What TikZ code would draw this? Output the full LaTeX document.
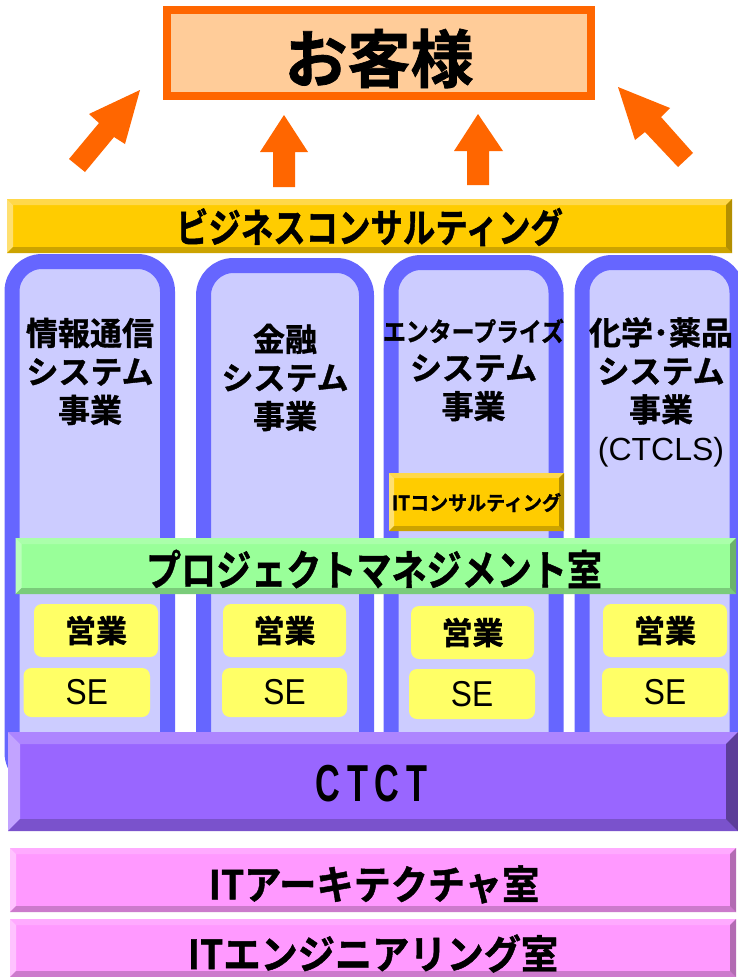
\documentclass[tikz,border=0pt]{standalone}
\usepackage{fontspec}
\usepackage{graphicx}
\setmainfont{Noto Sans CJK JP}[BoldFont={Noto Sans CJK JP Bold}, BoldFeatures={FakeBold=1.2}]
\newfontfamily\lat{Liberation Sans}
\definecolor{arr}{HTML}{FF6600}
\definecolor{peach}{HTML}{FFCC99}
\definecolor{colB}{HTML}{6666FF}
\definecolor{colF}{HTML}{CCCCFF}
\definecolor{eigF}{HTML}{FFFF66}
\definecolor{yelM}{HTML}{FFCC00}
\definecolor{yelT}{HTML}{FFD84A}
\definecolor{yelL}{HTML}{FFE070}
\definecolor{yelB}{HTML}{CCA300}
\definecolor{yelR}{HTML}{B38F00}
\definecolor{grnM}{HTML}{99FF99}
\definecolor{grnT}{HTML}{AAFFAA}
\definecolor{grnL}{HTML}{BBFFBB}
\definecolor{grnB}{HTML}{7ACC7A}
\definecolor{grnR}{HTML}{6BB36B}
\definecolor{purM}{HTML}{9966FF}
\definecolor{purT}{HTML}{AD85FF}
\definecolor{purL}{HTML}{C2A3FF}
\definecolor{purB}{HTML}{7A52CC}
\definecolor{purR}{HTML}{5C3D99}
\definecolor{pnkM}{HTML}{FF99FF}
\definecolor{pnkT}{HTML}{FFAAFF}
\definecolor{pnkL}{HTML}{FFC2FF}
\definecolor{pnkB}{HTML}{CC7ACC}
\definecolor{pnkR}{HTML}{B36BB3}
\newcommand\bevelbar[6]{%
 \fill[#6M] (#1,#2) rectangle (#3,#4);
 \fill[#6T] (#1,#2) -- (#3,#2) -- ({#3-#5},{#2+#5}) -- ({#1+#5},{#2+#5}) -- cycle;
 \fill[#6L] (#1,#2) -- ({#1+#5},{#2+#5}) -- ({#1+#5},{#4-#5}) -- (#1,#4) -- cycle;
 \fill[#6B] (#1,#4) -- ({#1+#5},{#4-#5}) -- ({#3-#5},{#4-#5}) -- (#3,#4) -- cycle;
 \fill[#6R] (#3,#2) -- (#3,#4) -- ({#3-#5},{#4-#5}) -- ({#3-#5},{#2+#5}) -- cycle;
}
\tikzset{
 txt/.style={inner sep=0pt, outer sep=0pt},
 colbox/.style={draw=colB, fill=colF, line width=15pt, rounded corners=30pt},
 eigbox/.style={fill=eigF, rounded corners=8pt, inner sep=0pt, minimum height=53pt},
 sebox/.style={fill=eigF, rounded corners=8pt, inner sep=0pt, minimum height=49pt},
 coltext/.style={txt, align=center, font=\fontsize{32}{38.5}\selectfont\bfseries},
 eigtext/.style={txt, font=\fontsize{31}{34}\selectfont\bfseries},
 setext/.style={txt, font=\fontsize{36}{40}\selectfont\lat},
}
\begin{document}
\begin{tikzpicture}[x=1pt,y=-1pt]
\clip (0,0) rectangle (738,977);
\fill[white] (0,0) rectangle (738,977);
% customer box
\node[draw=arr, line width=8pt, fill=peach, minimum width=424pt, minimum height=86pt, inner sep=0pt] (kyaku) at (379,53) {};
\node[txt, font=\fontsize{63}{70}\selectfont\bfseries] (kyakut) at (379,58.5) {お客様};
% arrows
\fill[arr] (140,90) -- (125,144) -- (114,137) -- (85,172) -- (69,159) -- (99,123) -- (89,114) -- cycle;
\fill[arr] (273,187) -- (273,152) -- (260,152) -- (284,115) -- (308,152) -- (295,152) -- (295,187) -- cycle;
\fill[arr] (467,185) -- (467,151) -- (454,151) -- (478,114) -- (503,151) -- (489,151) -- (489,185) -- cycle;
\fill[arr] (618,87) -- (670,108) -- (661,117) -- (693,153) -- (678,167) -- (645,132) -- (635,140) -- cycle;
% business consulting bar
\bevelbar{7}{199}{732}{253}{6}{yel}
\node[txt] (bizt) at (369.5,227) {\scalebox{0.81}[1]{\fontsize{40}{44}\selectfont\bfseries ビジネスコンサルティング}};
% columns
\draw[colbox] (12,261.5) rectangle (167.5,782.5);
\draw[colbox] (203.5,265.5) rectangle (366.5,782.5);
\draw[colbox] (391,262.5) rectangle (556,782.5);
\draw[colbox] (582,262.5) rectangle (737,782.5);
\node[coltext] (c1t) at (90,371.5) {情報通信\\システム\\事業};
\node[coltext] (c2t) at (285,377.5) {金融\\システム\\事業};
\node[coltext] (c3t) at (473.5,370) {\scalebox{0.88}[1]{\fontsize{26}{30}\selectfont\bfseries エンタープライズ}\\システム\\事業};
\node[coltext] (c4t) at (661,392) {化学･薬品\\システム\\事業\\{\lat\mdseries (CTCLS)}};
% IT consulting
\bevelbar{389}{473}{564}{531}{5}{yel}
\node[txt] (itct) at (476.5,502.5) {\scalebox{0.95}[1]{\fontsize{20}{24}\selectfont\bfseries ITコンサルティング}};
% PM bar
\bevelbar{15.5}{538}{736}{594}{6}{grn}
\node[txt] (pmt) at (374,569) {\scalebox{0.835}[1]{\fontsize{42}{46}\selectfont\bfseries プロジェクトマネジメント室}};
% sales / SE
\node[eigbox, minimum width=124pt] (e1) at (96,630.5) {};
\node[eigbox, minimum width=123pt] (e2) at (284.5,630.5) {};
\node[eigbox, minimum width=123pt] (e3) at (472.5,632.5) {};
\node[eigbox, minimum width=124pt] (e4) at (665,630.5) {};
\node[sebox, minimum width=126.5pt] (s1) at (86.75,692.5) {};
\node[sebox, minimum width=125pt] (s2) at (284.5,692.5) {};
\node[sebox, minimum width=126pt, minimum height=50pt] (s3) at (472,694) {};
\node[sebox, minimum width=126pt] (s4) at (665,692.5) {};
\foreach \n in {1,2,3,4}{
 \node[eigtext] (e\n t) at (e\n) {営業};
 \node[setext] (s\n t) at (s\n) {\scalebox{0.88}[1]{SE}};
}
% CTCT
\bevelbar{8}{732}{738}{831}{12}{pur}
\node[txt] (ctct) at (371.5,784) {\scalebox{0.66}[1]{\fontsize{52}{56}\selectfont\lat\bfseries C\kern10pt T\kern10pt C\kern10pt T}};
% IT bars
\bevelbar{10}{848}{736}{912}{6}{pnk}
\node[txt] (arct) at (374,884.5) {\scalebox{0.93}[1]{\fontsize{40}{44}\selectfont\bfseries ITアーキテクチャ室}};
\bevelbar{10}{919}{736}{977}{6}{pnk}
\node[txt] (engt) at (373,953.5) {\scalebox{0.93}[1]{\fontsize{40}{44}\selectfont\bfseries ITエンジニアリング室}};
\end{tikzpicture}
\end{document}
